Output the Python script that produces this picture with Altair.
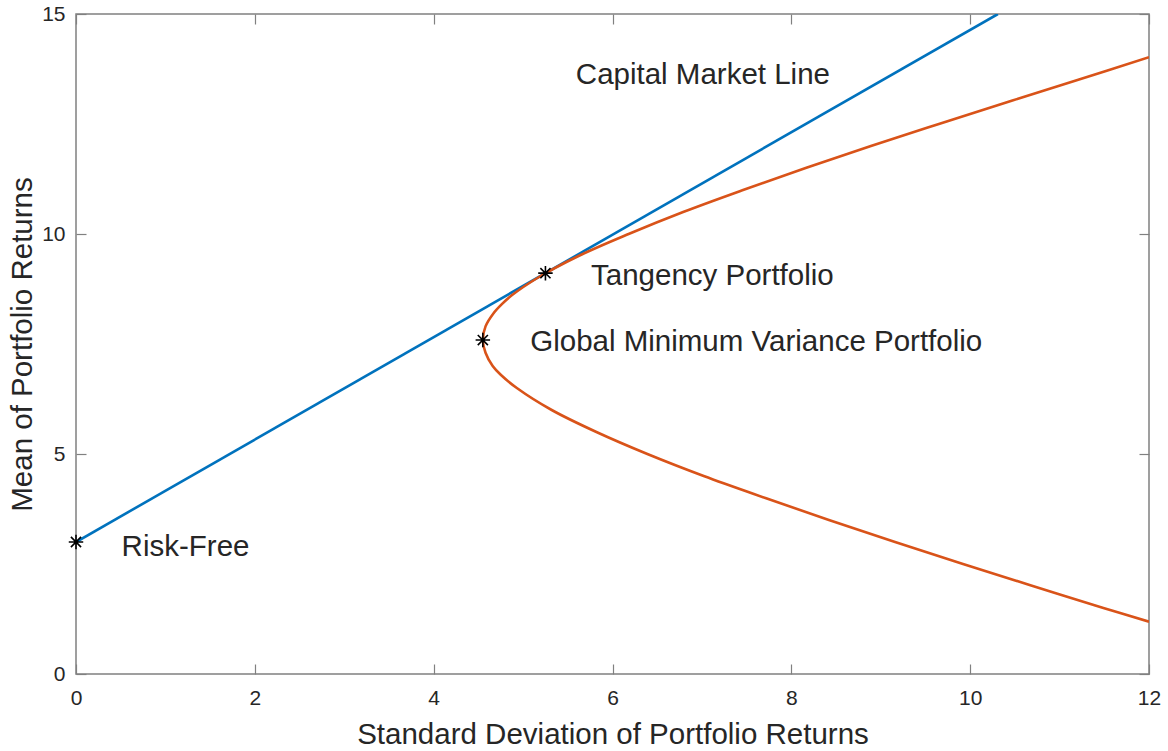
import altair as alt
import pandas as pd

# Capital market line: from the risk-free rate up through the tangency portfolio
cml_sigma = [0.0, 10.31]
cml_mu = [3.0, 15.0]

# Efficient frontier (hyperbola of standard deviation vs mean)
frontier_mu = [1.19, 1.5, 2.0, 2.5, 3.0, 3.5, 4.0, 4.5, 5.0, 5.5, 6.0, 6.5, 6.8, 7.0, 7.3,
               7.59, 7.9, 8.2, 8.4, 8.6, 9.0, 9.5, 10.0, 10.5, 11.0, 11.5, 12.0, 12.5,
               13.0, 13.5, 14.02]
frontier_sigma = [12.0, 11.49, 10.70, 9.92, 9.16, 8.42, 7.71, 7.02, 6.39, 5.82, 5.32, 4.93,
                  4.75, 4.66, 4.58, 4.55, 4.58, 4.67, 4.76, 4.87, 5.16, 5.62, 6.18, 6.79,
                  7.46, 8.16, 8.89, 9.65, 10.42, 11.20, 12.0]

# Marked portfolios
port_names = ["Risk-Free", "Tangency Portfolio", "Global Minimum Variance Portfolio"]
port_sigma = [0.0, 5.25, 4.55]
port_mu = [3.0, 9.11, 7.59]

# Text annotations (left edge, vertical middle)
note_text = ["Capital Market Line", "Tangency Portfolio",
             "Global Minimum Variance Portfolio", "Risk-Free"]
note_sigma = [5.59, 5.76, 5.08, 0.51]
note_mu = [13.61, 9.05, 7.55, 2.89]

cml = pd.DataFrame({"sigma": cml_sigma, "mu": cml_mu, "i": range(len(cml_mu))})
frontier = pd.DataFrame({"sigma": frontier_sigma, "mu": frontier_mu,
                         "i": range(len(frontier_mu))})
ports = pd.DataFrame({"name": port_names, "sigma": port_sigma, "mu": port_mu})
notes = pd.DataFrame({"text": note_text, "sigma": note_sigma, "mu": note_mu})

FONT = "Liberation Sans"
TXT = "#262626"
xscale = alt.Scale(domain=[0, 12], nice=False, zero=False)
yscale = alt.Scale(domain=[0, 15], nice=False, zero=False)

TICK = 10


def ax_common(**kw):
    return dict(domain=False, grid=False, tickSize=TICK, offset=-TICK, labelFlush=False,
                tickColor="#808080", tickWidth=1.2, labelFont=FONT, labelColor=TXT,
                titleFont=FONT, titleColor=TXT, titleFontWeight="normal", **kw)


x_bottom = alt.Axis(values=[0, 2, 4, 6, 8, 10, 12], labelFontSize=21, labelPadding=13,
                    title="Standard Deviation of Portfolio Returns", titleFontSize=29.5,
                    titlePadding=12, **ax_common())
y_left = alt.Axis(values=[0, 5, 10, 15], labelFontSize=21, labelPadding=11,
                  title="Mean of Portfolio Returns", titleFontSize=29.5, titlePadding=4,
                  **ax_common())
x_top = alt.Axis(orient="top", values=[0, 2, 4, 6, 8, 10, 12], labels=False, title=None,
                 **ax_common())
y_right = alt.Axis(orient="right", values=[0, 5, 10, 15], labels=False, title=None,
                   **ax_common())

cml_layer = alt.Chart(cml).mark_line(color="#0072BD", strokeWidth=2.6, clip=True).encode(
    x=alt.X("sigma:Q", scale=xscale, axis=x_bottom),
    y=alt.Y("mu:Q", scale=yscale, axis=y_left),
    order="i:Q",
)

frontier_layer = alt.Chart(frontier).mark_line(
    color="#D95319", strokeWidth=2.6, interpolate="catmull-rom", clip=True
).encode(
    x=alt.X("sigma:Q", scale=xscale, axis=None),
    y=alt.Y("mu:Q", scale=yscale, axis=None),
    order="i:Q",
)

asterisk = "M-1,0L1,0M0,-1L0,1M-0.7,-0.7L0.7,0.7M-0.7,0.7L0.7,-0.7"
point_layer = alt.Chart(ports).mark_point(
    shape=asterisk, size=210, filled=False, color="black", strokeWidth=1.6, opacity=1
).encode(
    x=alt.X("sigma:Q", scale=xscale, axis=None),
    y=alt.Y("mu:Q", scale=yscale, axis=None),
)

text_layer = alt.Chart(notes).mark_text(
    align="left", baseline="middle", font=FONT, fontSize=29.5, color=TXT
).encode(
    x=alt.X("sigma:Q", scale=xscale, axis=x_top),
    y=alt.Y("mu:Q", scale=yscale, axis=y_right),
    text="text:N",
)

chart = alt.layer(cml_layer, frontier_layer, point_layer, text_layer).resolve_axis(
    x="independent", y="independent"
).properties(
    width=1073, height=660,
    padding={"left": 76, "top": 14, "right": 19, "bottom": 77},
    autosize=alt.AutoSizeParams(type="none"),
    background="white",
).configure_view(stroke="#808080", strokeWidth=1.5)

chart.save("out.html", embed_options={"renderer": "svg", "actions": False})
